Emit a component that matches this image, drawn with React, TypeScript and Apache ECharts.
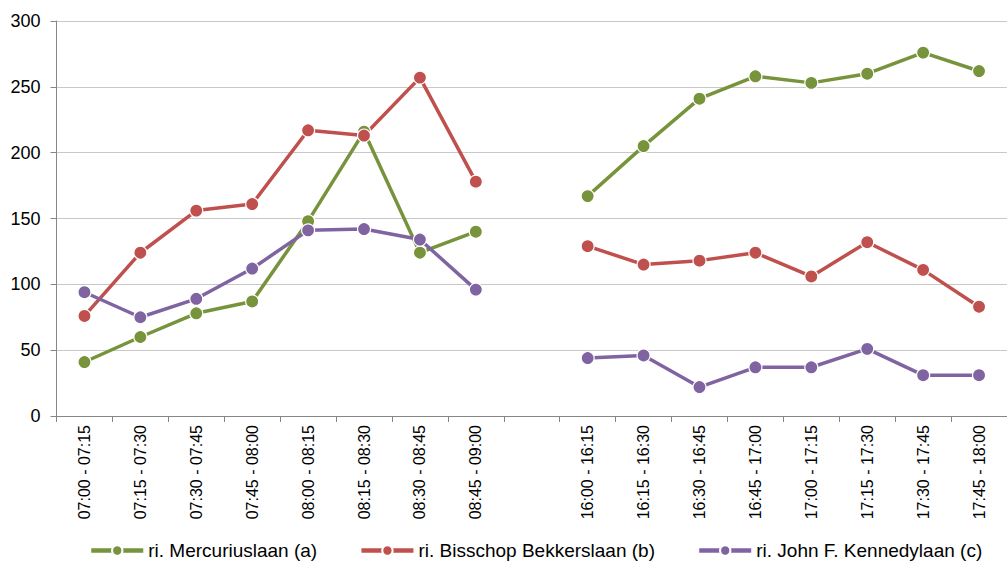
import React, { useEffect, useRef } from "react";
import * as echarts from "echarts";

const categories = [
  "07:00 - 07:15", "07:15 - 07:30", "07:30 - 07:45", "07:45 - 08:00",
  "08:00 - 08:15", "08:15 - 08:30", "08:30 - 08:45", "08:45 - 09:00",
  "",
  "16:00 - 16:15", "16:15 - 16:30", "16:30 - 16:45", "16:45 - 17:00",
  "17:00 - 17:15", "17:15 - 17:30", "17:30 - 17:45", "17:45 - 18:00",
];

const seriesNames = [
  "ri. Mercuriuslaan (a)",
  "ri. Bisschop Bekkerslaan (b)",
  "ri. John F. Kennedylaan (c)",
];

const mercuriuslaan = [41, 60, 78, 87, 148, 216, 124, 140, null, 167, 205, 241, 258, 253, 260, 276, 262];
const bisschopBekkerslaan = [76, 124, 156, 161, 217, 213, 257, 178, null, 129, 115, 118, 124, 106, 132, 111, 83];
const kennedylaan = [94, 75, 89, 112, 141, 142, 134, 96, null, 44, 46, 22, 37, 37, 51, 31, 31];

const yTicks = { min: 0, max: 300, interval: 50 };

const colors = ["#77933C", "#C0504D", "#8064A2"];

const FONT = "'Liberation Sans', Arial, sans-serif";

export default function App() {
  const ref = useRef<HTMLDivElement>(null);

  useEffect(() => {
    if (!ref.current) return;
    const chart = echarts.init(ref.current, undefined, { renderer: "svg" });
    const data = [mercuriuslaan, bisschopBekkerslaan, kennedylaan];
    chart.setOption({
      animation: false,
      backgroundColor: "#ffffff",
      textStyle: { fontFamily: FONT },
      grid: { left: 56.5, right: -10, top: 21, bottom: 150 },
      legend: {
        bottom: 1,
        left: 84,
        itemWidth: 52,
        itemHeight: 13,
        itemGap: 42,
        lineStyle: { width: 4.5 },
        textStyle: { fontFamily: FONT, fontSize: 19, color: "#000", padding: [0, 0, 0, 0] },
        data: seriesNames,
      },
      xAxis: {
        type: "category",
        data: categories,
        boundaryGap: true,
        axisLine: { show: true, lineStyle: { color: "#868686", width: 1 } },
        axisTick: { show: true, length: 6, alignWithLabel: false, interval: 0, lineStyle: { color: "#868686" } },
        axisLabel: {
          interval: 0,
          rotate: 90,
          margin: 9,
          fontSize: 16,
          fontFamily: FONT,
          color: "#000",
        },
        splitLine: { show: false },
      },
      yAxis: {
        type: "value",
        min: yTicks.min,
        max: yTicks.max,
        interval: yTicks.interval,
        axisLine: { show: true, lineStyle: { color: "#868686", width: 1 } },
        axisTick: { show: true, length: 6, lineStyle: { color: "#868686" } },
        axisLabel: { margin: 16, fontSize: 18, fontFamily: FONT, color: "#000" },
        splitLine: { show: true, lineStyle: { color: "#C8C8C8", width: 1 } },
      },
      series: seriesNames.map((name, i) => ({
        name,
        type: "line",
        data: data[i],
        connectNulls: false,
        symbol: "circle",
        symbolSize: 13,
        color: colors[i],
        lineStyle: { color: colors[i], width: 3.5 },
        itemStyle: { color: colors[i], borderColor: "#ffffff", borderWidth: 1.2 },
        emphasis: { disabled: true },
      })),
    });
    return () => chart.dispose();
  }, []);

  return (
    <div
      ref={ref}
      style={{ position: "fixed", left: 0, top: 0, width: 1007, height: 566, background: "#fff" }}
    />
  );
}
